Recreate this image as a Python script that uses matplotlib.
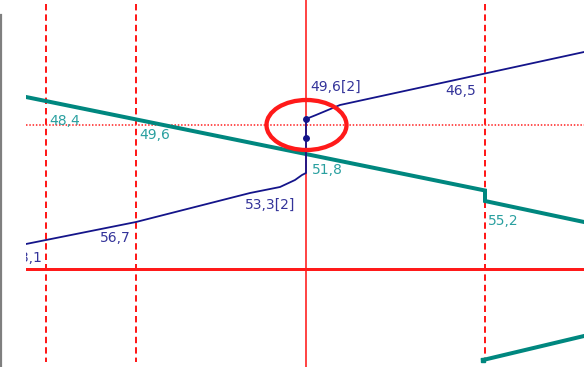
import matplotlib
matplotlib.use("Agg")
import matplotlib.pyplot as plt
from matplotlib.patches import Ellipse
from matplotlib.lines import Line2D

W, H = 584, 367
PX = 0.72  # one pixel in points at dpi 100

# grid (screen units, y grows downwards)
time_grid = [46, 136, 485]      # dashed verticals
now_x = 306                     # solid vertical
station_dotted = 125
station_solid = 269

# train paths
teal_x = [26, 485, 485, 584]
teal_y = [97, 190.5, 201, 222]
teal2_x = [483, 584]
teal2_y = [360, 336]

navy_x = [26, 136, 250, 280, 295, 302, 306, 306, 316, 340, 584]
navy_y = [244, 222, 193, 187, 180, 175, 173, 119, 115, 105, 52]
stop_x = [306, 306]
stop_y = [119, 138]

# labels: text, x, y, colour key, alignment
labels = [
    ("48,4", 49, 121, "t", "left"),
    ("49,6", 139, 135, "t", "left"),
    ("56,7", 100, 238, "n", "left"),
    ("58,1", 42.5, 258, "n", "right"),
    ("53,3[2]", 245, 205, "n", "left"),
    ("51,8", 312, 170, "t", "left"),
    ("49,6[2]", 310, 87, "n", "left"),
    ("46,5", 445, 91, "n", "left"),
    ("55,2", 488, 221, "t", "left"),
]
ring = (306.5, 125, 80, 50)

RED = "#ff1a1a"
TEAL = "#00877f"
NAVY = "#14148a"
colors = {"t": "#2aa0a0", "n": "#34349a"}

fig = plt.figure(figsize=(W / 100, H / 100), dpi=100)
ax = fig.add_axes([26 / W, 0, 1 - 26 / W, 1])
ax.set_xlim(26, W)
ax.set_ylim(H, 0)
ax.axis("off")

# grey frame edge on the far left
fig.add_artist(Line2D([1 / W, 1 / W], [0, 1 - 15 / H], transform=fig.transFigure,
                      color="#7f7f7f", lw=2.2 * PX))

for x in time_grid:
    ax.plot([x, x], [4, 362], color=RED, lw=2 * PX, ls=(0, (3.2, 2)), zorder=1)
ax.plot([now_x, now_x], [0, H], color=RED, lw=1.6 * PX, zorder=1)
ax.plot([26, W], [station_dotted] * 2, color=RED, lw=1.5 * PX, ls=(0, (1, 1.2)), zorder=1)
ax.plot([26, W], [station_solid] * 2, color=RED, lw=3 * PX, zorder=1)

ax.plot(teal_x, teal_y, color=TEAL, lw=4 * PX, solid_joinstyle="miter", zorder=3)
ax.plot(teal2_x, teal2_y, color=TEAL, lw=4 * PX, marker="s", ms=5 * PX,
        markevery=[0], zorder=3)
ax.plot(navy_x, navy_y, color=NAVY, lw=1.8 * PX, zorder=4)
ax.plot(stop_x, stop_y, "o", color=NAVY, ms=5.5 * PX, zorder=5)

for txt, x, y, c, ha in labels:
    ax.text(x, y, txt, color=colors[c], fontsize=10, family="DejaVu Sans",
            ha=ha, va="center", clip_on=True, zorder=6)

cx, cy, w, h = ring
ax.add_patch(Ellipse((cx, cy), w, h, fill=False, edgecolor=RED, lw=4.3 * PX, zorder=7))

fig.savefig("out.png", dpi=100)
